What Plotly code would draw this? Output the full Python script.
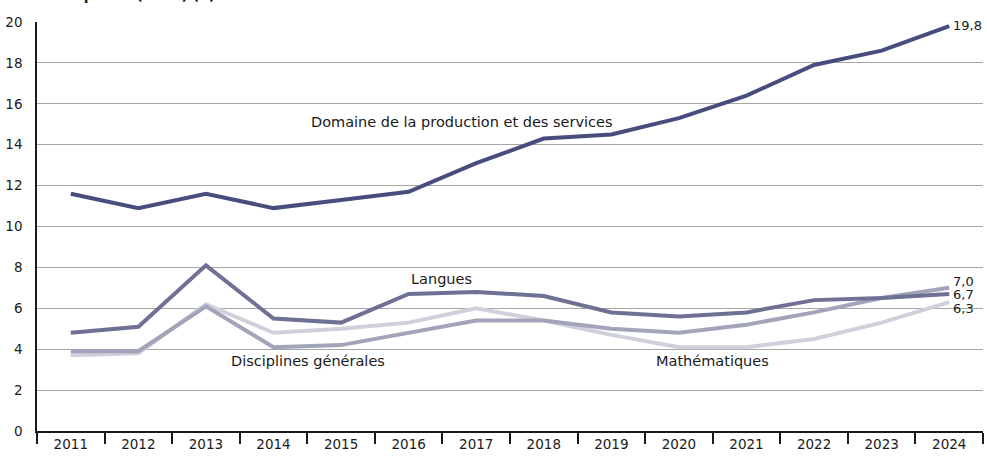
import plotly.graph_objects as go

annees = ["2011", "2012", "2013", "2014", "2015", "2016", "2017",
          "2018", "2019", "2020", "2021", "2022", "2023", "2024"]

production = [11.6, 10.9, 11.6, 10.9, 11.3, 11.7, 13.1, 14.3, 14.5, 15.3, 16.4, 17.9, 18.6, 19.8]
langues = [4.8, 5.1, 8.1, 5.5, 5.3, 6.7, 6.8, 6.6, 5.8, 5.6, 5.8, 6.4, 6.5, 6.7]
disciplines = [3.9, 3.9, 6.1, 4.1, 4.2, 4.8, 5.4, 5.4, 5.0, 4.8, 5.2, 5.8, 6.5, 7.0]
maths = [3.7, 3.8, 6.2, 4.8, 5.0, 5.3, 6.0, 5.4, 4.7, 4.1, 4.1, 4.5, 5.3, 6.3]

police = "DejaVu Sans"

fig = go.Figure()
# ordre de tracé : les plus clairs dessous
fig.add_trace(go.Scatter(x=annees, y=maths, mode="lines", line=dict(color="#cfd0dc", width=4)))
fig.add_trace(go.Scatter(x=annees, y=disciplines, mode="lines", line=dict(color="#a2a4ba", width=4)))
fig.add_trace(go.Scatter(x=annees, y=langues, mode="lines", line=dict(color="#6e7194", width=4)))
fig.add_trace(go.Scatter(x=annees, y=production, mode="lines", line=dict(color="#474e7e", width=4)))

notes = [
    dict(x=5.79, y=15.1, text="Domaine de la production et des services"),
    dict(x=5.49, y=7.45, text="Langues"),
    dict(x=3.51, y=3.4, text="Disciplines générales"),
    dict(x=9.49, y=3.4, text="Mathématiques"),
]
for n in notes:
    fig.add_annotation(x=n["x"], y=n["y"], text=n["text"], showarrow=False,
                       font=dict(family=police, size=14.5, color="#1a1a1a"))

# valeurs 2024 en bout de courbe
fins = [(production[-1], 1), (disciplines[-1], 6), (langues[-1], -1), (maths[-1], -6)]
for v, dy in fins:
    fig.add_annotation(x=13, y=v, text=f"{v:.1f}".replace(".", ","), showarrow=False,
                       xanchor="left", xshift=3, yshift=dy, borderpad=0,
                       font=dict(family=police, size=13, color="#1a1a1a"))

# titre coupé en haut de l'image
fig.add_annotation(x=0, y=1, xref="paper", yref="paper", xanchor="left", yanchor="bottom",
                   xshift=-37, yshift=16.5, text="<b>Taux de reprises (en %) (1)</b>",
                   showarrow=False, font=dict(family=police, size=14, color="#1a1a1a"))

fig.update_layout(
    width=987, height=459,
    margin=dict(l=37, r=4, t=22, b=28),
    paper_bgcolor="white", plot_bgcolor="white",
    showlegend=False,
    font=dict(family=police, size=13, color="#1a1a1a"),
)
fig.update_xaxes(
    type="category", tickson="boundaries", ticks="outside", ticklen=11,
    tickcolor="#1a1a1a", tickwidth=1.5, showline=True, linecolor="#1a1a1a", linewidth=1.5,
    showgrid=False, range=[-0.5, 13.5], tickfont=dict(size=13.5), automargin=False,
)
fig.update_yaxes(
    range=[0, 20], dtick=2, showgrid=True, gridcolor="#a6a6a6", gridwidth=1,
    showline=True, linecolor="#1a1a1a", linewidth=1.5, ticks="", ticklabelstandoff=10,
    zeroline=False, tickfont=dict(size=13.5), automargin=False,
)

# pas de marge de page autour de la figure
fig.write_html("out.html", config={"displayModeBar": False},
               post_script="document.body.style.margin = '0px';")
